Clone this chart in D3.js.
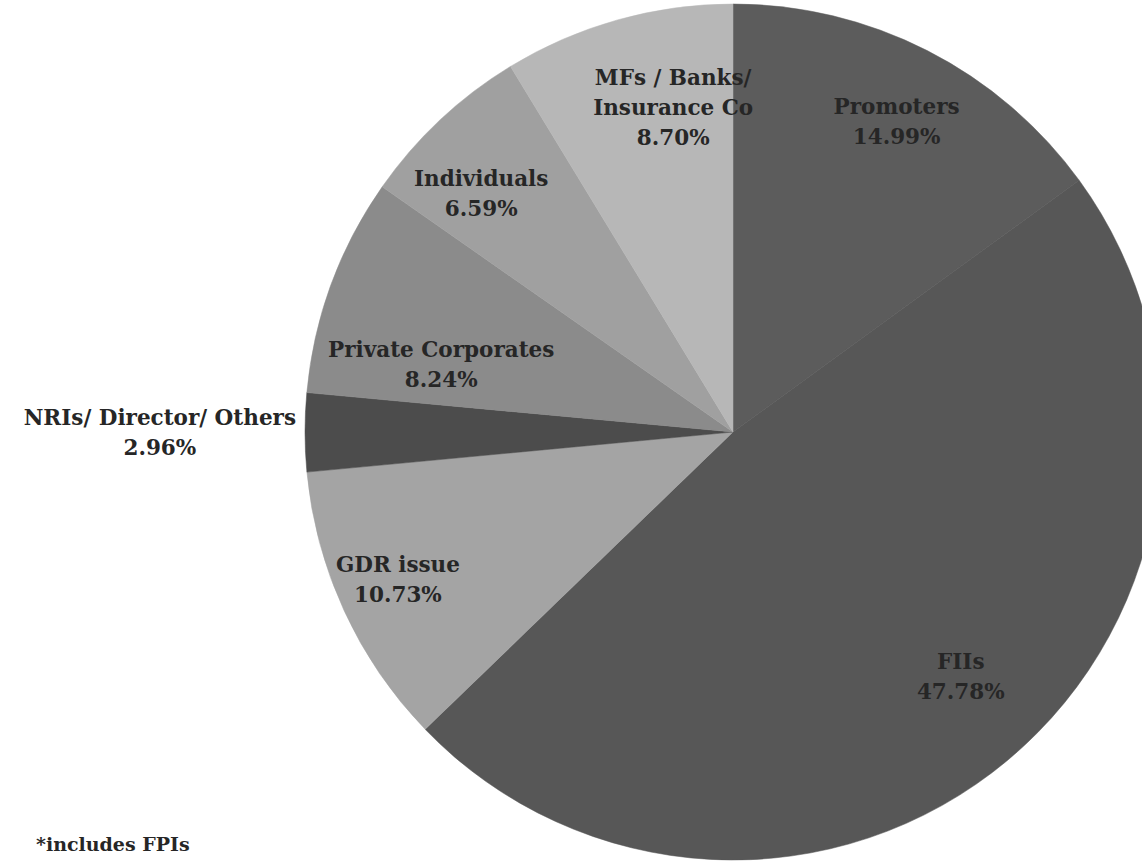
<!DOCTYPE html>
<html>
<head>
<meta charset="utf-8">
<script src="https://cdn.jsdelivr.net/npm/d3@7"></script>
<style>
  body { margin: 0; background: #fff; }
  svg text { font-family: "DejaVu Serif", serif; font-weight: bold; fill: #262626; }
</style>
</head>
<body>
<div id="chart"></div>
<script>
// shareholding pattern pie, clockwise from 12 o'clock
var categories = ["Promoters", "FIIs", "GDR issue", "NRIs/ Director/ Others", "Private Corporates", "Individuals", "MFs / Banks/ Insurance Co"];
var shares = [14.99, 47.78, 10.73, 2.96, 8.24, 6.59, 8.70];
var labelLines = [["Promoters"], ["FIIs"], ["GDR issue"], ["NRIs/ Director/ Others"], ["Private Corporates"], ["Individuals"], ["MFs / Banks/", "Insurance Co"]];
var sliceColors = ["#5c5c5c", "#575757", "#a4a4a4", "#4c4c4c", "#8b8b8b", "#a0a0a0", "#b7b7b7"];
var footnote = "*includes FPIs";

// label placement: radius as fraction of R (null = outside, left of the pie), angle nudge in degrees
var labelRadius = [0.82, 0.78, 0.855, null, 0.70, 0.81, 0.77];
var labelNudge = [0.8, -3, 1, 0, -7, -3.4, 5.2];

var width = 1142, height = 862;
var cx = 733, cy = 432, R = 428;
var fontSize = 21.5, lineH = 30;

var svg = d3.select("#chart").append("svg").attr("width", width).attr("height", height);
var g = svg.append("g").attr("transform", "translate(" + cx + "," + cy + ")");

var data = categories.map(function(c, i) { return { name: c, value: shares[i], i: i }; });
var pie = d3.pie().sort(null).value(function(d) { return d.value; });
var arcs = pie(data);
var arc = d3.arc().innerRadius(0).outerRadius(R);

g.selectAll("path.slice").data(arcs).enter().append("path")
  .attr("class", "slice")
  .attr("d", arc)
  .attr("fill", function(d) { return sliceColors[d.data.i]; })
  .attr("stroke", function(d) { return sliceColors[d.data.i]; })
  .attr("stroke-width", 0.5);

var labels = g.selectAll("text.lbl").data(arcs).enter().append("text")
  .attr("class", "lbl")
  .attr("font-size", fontSize)
  .attr("transform", function(d) {
    var i = d.data.i;
    var mid = (d.startAngle + d.endAngle) / 2 + labelNudge[i] * Math.PI / 180;
    var r = labelRadius[i] === null ? R + 9 : R * labelRadius[i];
    return "translate(" + (r * Math.sin(mid)) + "," + (-r * Math.cos(mid)) + ")";
  });

labels.each(function(d) {
  var t = d3.select(this);
  var i = d.data.i;
  var outside = labelRadius[i] === null;
  var lines = labelLines[i].concat([d3.format(".2f")(d.data.value) + "%"]);
  var n = lines.length;
  var spans = lines.map(function(s, k) {
    return t.append("tspan")
      .attr("x", 0)
      .attr("text-anchor", "middle")
      .attr("y", (k - (n - 1) / 2) * lineH + fontSize * 0.35)
      .text(s);
  });
  if (outside) {
    // right-align the block against the pie edge, lines centred on each other
    var w = d3.max(spans, function(s) { return s.node().getComputedTextLength(); });
    spans.forEach(function(s) { s.attr("x", -w / 2); });
  }
});

svg.append("text")
  .attr("x", 36).attr("y", 851)
  .attr("font-size", 19)
  .text(footnote);
</script>
</body>
</html>
